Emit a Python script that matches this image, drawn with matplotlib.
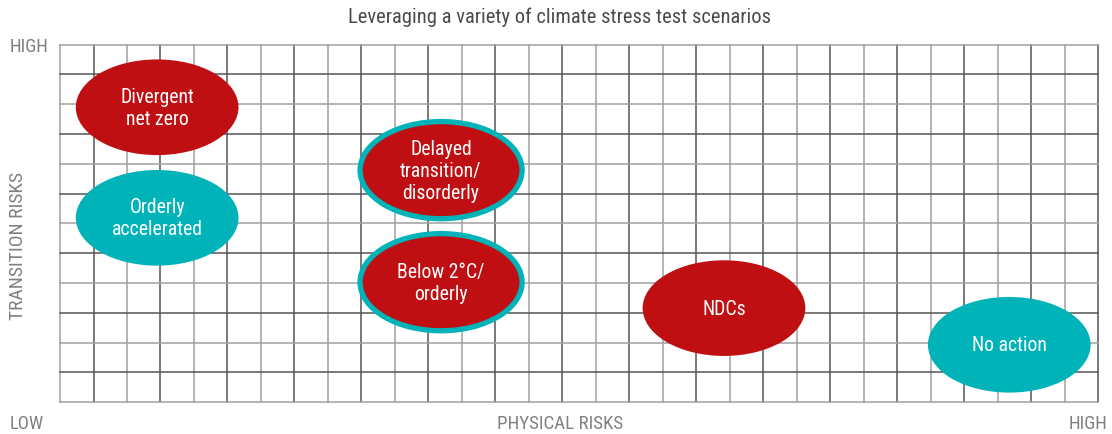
import matplotlib.pyplot as plt
from matplotlib.patches import Ellipse
from matplotlib import font_manager

# scenarios: label, physical risk (x, grid units), transition risk (y, grid units)
labels = ["Divergent\nnet zero", "Orderly\naccelerated", "Delayed\ntransition/\ndisorderly",
          "Below 2°C/\norderly", "NDCs", "No action"]
physical = [2.9, 2.9, 11.38, 11.38, 19.83, 28.35]
transition = [9.9, 6.19, 7.79, 4.03, 3.16, 1.93]
fills = ["red", "teal", "red", "red", "red", "teal"]
outlined = [False, False, True, True, False, False]

n_cols = 31
n_rows = 12

RED = "#c00f12"
TEAL = "#00b3b9"
colors = {"red": RED, "teal": TEAL}

fonts = [(f.name, f.stretch) for f in font_manager.fontManager.ttflist]
names = {n for n, s in fonts}
stretch = "normal"
if "Roboto Condensed" in names:
    font = "Roboto Condensed"
elif "Liberation Sans Narrow" in names:
    font = "Liberation Sans Narrow"
elif any(n == "DejaVu Sans" and s == "condensed" for n, s in fonts):
    font, stretch = "DejaVu Sans", "condensed"
else:
    font = "Roboto"
plt.rcParams["font.family"] = font
plt.rcParams["font.stretch"] = stretch

fig = plt.figure(figsize=(11.12, 4.35), dpi=100)
ax = fig.add_axes([0.054, 0.0729, 0.9334, 0.8221])
ax.set_xlim(0, n_cols)
ax.set_ylim(0, n_rows)
ax.axis("off")

# grid lines, alternating dark and light grey
for i in range(n_cols + 1):
    c = "#555555" if i % 2 == 1 else "#a0a0a0"
    ax.plot([i, i], [0, n_rows], color=c, lw=1.1, zorder=1, clip_on=False)
for j in range(n_rows + 1):
    c = "#555555" if j % 2 == 1 else "#a0a0a0"
    ax.plot([0, n_cols], [j, j], color=c, lw=1.1, zorder=1, clip_on=False)

for lab, x, y, f, o in zip(labels, physical, transition, fills, outlined):
    if o:
        e = Ellipse((x, y), 4.84, 3.26, facecolor=colors[f], edgecolor=TEAL, lw=3.8, zorder=3)
    else:
        e = Ellipse((x, y), 4.86, 3.21, facecolor=colors[f], edgecolor="none", zorder=3)
    ax.add_patch(e)
    ax.text(x, y, lab, ha="center", va="center", color="white", fontsize=14.2,
            linespacing=1.2, zorder=4)

grey = "#808080"
fig.text(0.5033, 0.961, "Leveraging a variety of climate stress test scenarios",
         ha="center", va="center", fontsize=14.8, color="#4a4a4a")
fig.text(0.009, 0.892, "HIGH", ha="left", va="center", fontsize=13.5, color=grey)
fig.text(0.009, 0.025, "LOW", ha="left", va="center", fontsize=13.5, color=grey)
fig.text(0.996, 0.025, "HIGH", ha="right", va="center", fontsize=13.5, color=grey)
fig.text(0.5035, 0.025, "PHYSICAL RISKS", ha="center", va="center", fontsize=13.7, color=grey)
fig.text(0.016, 0.434, "TRANSITION RISKS", ha="center", va="center", rotation=90,
         fontsize=14, color=grey)

plt.savefig("out.png", dpi=100)
